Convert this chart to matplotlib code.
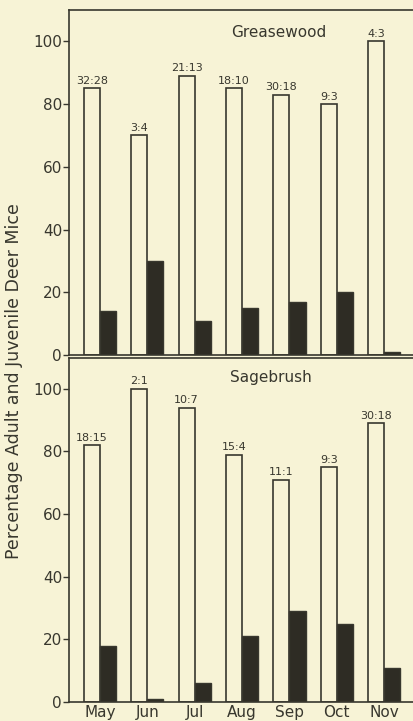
import matplotlib
matplotlib.use("Agg")
import matplotlib.pyplot as plt
import numpy as np

plt.rcParams['font.family'] = ['DejaVu Sans']

months = ["May", "Jun", "Jul", "Aug", "Sep", "Oct", "Nov"]

# Greasewood: percentage adults (open bars) and juveniles (solid bars)
grease_adult = [85, 70, 89, 85, 83, 80, 100]
grease_juv = [14, 30, 11, 15, 17, 20, 1]
grease_ratio = ["32:28", "3:4", "21:13", "18:10", "30:18", "9:3", "4:3"]

# Sagebrush
sage_adult = [82, 100, 94, 79, 71, 75, 89]
sage_juv = [18, 1, 6, 21, 29, 25, 11]
sage_ratio = ["18:15", "2:1", "10:7", "15:4", "11:1", "9:3", "30:18"]

y_ticks = [0, 20, 40, 60, 80, 100]

bg = "#f7f3d6"
ink = "#38372e"
W, H = 414, 721

fig = plt.figure(figsize=(W / 100, H / 100), dpi=100, facecolor=bg)


def px_axes(left, top, right, bottom):
    return fig.add_axes([left / W, 1 - bottom / H, (right - left) / W, (bottom - top) / H])


ax_top = px_axes(69, 10, 414, 355)
ax_bot = px_axes(69, 357.5, 414, 702)

x = np.arange(len(months))
bw = 0.34


def draw_panel(ax, adult, juv, ratios, title, title_pos, show_months):
    ax.set_facecolor(bg)
    ax.bar(x - bw / 2, adult, width=bw, facecolor=bg, edgecolor=ink, linewidth=1.2)
    ax.bar(x + bw / 2, juv, width=bw, facecolor="#2e2c24", edgecolor=ink, linewidth=1.0)
    for xi, a, r in zip(x, adult, ratios):
        ax.text(xi - bw / 2, a + 0.8, r, ha="center", va="bottom",
                fontsize=8, color=ink)
    ax.text(title_pos[0], title_pos[1], title, ha="center", va="baseline",
            fontsize=11, color=ink)
    ax.set_xlim(-0.655, 6.63)
    ax.set_ylim(0, 110)
    ax.set_yticks(y_ticks)
    ax.set_yticklabels([str(t) for t in y_ticks], fontsize=11, color=ink)
    ax.tick_params(axis="y", direction="out", length=4, width=1, color=ink, pad=1)
    ax.set_xticks(x)
    if show_months:
        ax.set_xticklabels(months, fontsize=11, color=ink)
        ax.tick_params(axis="x", length=0, pad=2)
    else:
        ax.set_xticklabels([])
        ax.tick_params(axis="x", length=0)
    ax.spines["right"].set_visible(False)
    for s in ("left", "top", "bottom"):
        ax.spines[s].set_color(ink)
        ax.spines[s].set_linewidth(1.2)


draw_panel(ax_top, grease_adult, grease_juv, grease_ratio, "Greasewood", (3.77, 101.4), False)
draw_panel(ax_bot, sage_adult, sage_juv, sage_ratio, "Sagebrush", (3.61, 102.1), True)

fig.text(14 / W, 1 - 381 / H, "Percentage Adult and Juvenile Deer Mice",
         rotation=90, ha="center", va="center", fontsize=12.5, color=ink)

fig.savefig("out.png", dpi=100, facecolor=bg)
